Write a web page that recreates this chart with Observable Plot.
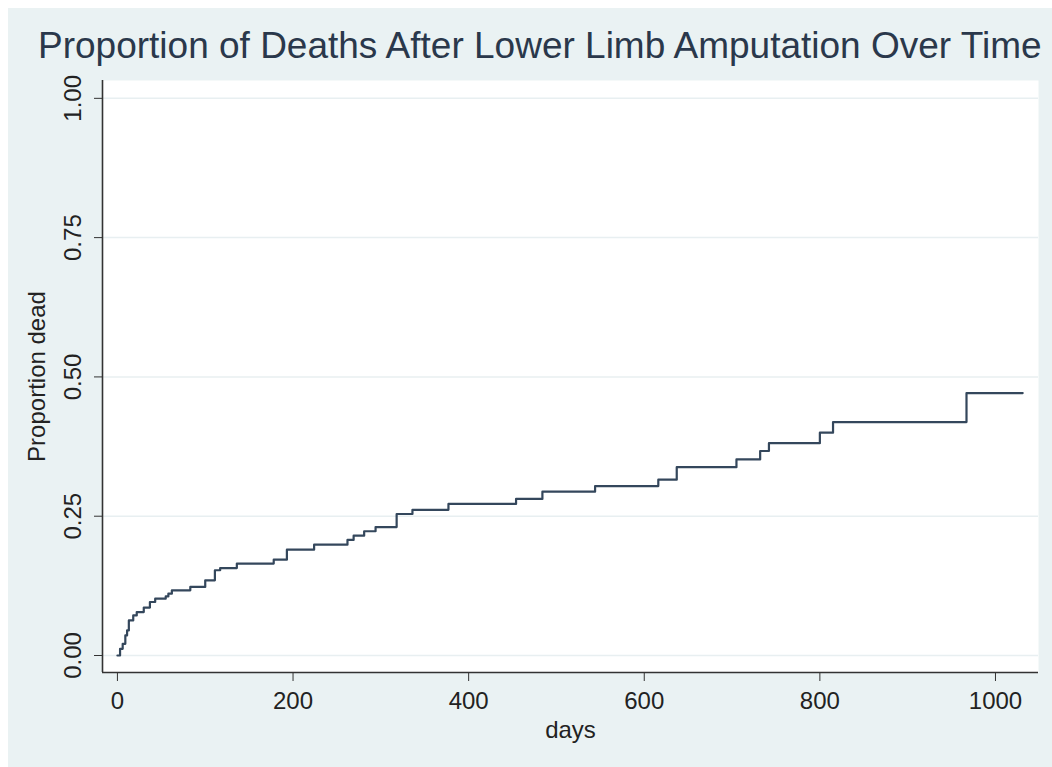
<!DOCTYPE html>
<html><head><meta charset="utf-8">
<script src="https://cdn.jsdelivr.net/npm/d3@7"></script>
<script src="https://cdn.jsdelivr.net/npm/@observablehq/plot@0.6"></script>
<style>
body{margin:0;background:#fff;width:1052px;height:767px;overflow:hidden;position:relative;font-family:"Liberation Sans",Arial,sans-serif}
#panel{position:absolute;left:8px;top:8px;width:1044px;height:759px;background:#eaf2f3}
#title{position:absolute;left:38px;top:25px;font-size:37px;line-height:42px;color:#2a384b;white-space:nowrap}
#chart{position:absolute;left:0;top:60px}
</style></head><body>
<div id="panel"></div>
<div id="title">Proportion of Deaths After Lower Limb Amputation Over Time</div>
<div id="chart"></div>
<script>
const days = [0, 3, 6, 9, 11, 13, 18, 22, 30, 37, 43, 55, 58, 62, 83, 100, 111, 117, 136, 178, 193, 224, 262, 269, 281, 294, 318, 336, 377, 454, 484, 544, 616, 637, 705, 732, 742, 800, 815, 967, 1031];
const proportionDead = [0, 0.012, 0.021, 0.036, 0.045, 0.063, 0.072, 0.078, 0.086, 0.096, 0.102, 0.106, 0.111, 0.117, 0.123, 0.135, 0.153, 0.157, 0.165, 0.172, 0.19, 0.199, 0.2075, 0.215, 0.223, 0.2305, 0.254, 0.2615, 0.272, 0.281, 0.294, 0.304, 0.3155, 0.338, 0.352, 0.367, 0.381, 0.4, 0.419, 0.471, 0.471];
const xTicks = [0, 200, 400, 600, 800, 1000];
const yTicks = [0, 0.25, 0.5, 0.75, 1];
const xDomain = [-17, 1049];
const yDomain = [-0.0305, 1.032];

const data = days.map((d, i) => ({days: d, prop: proportionDead[i]}));

const chart = Plot.plot({
  width: 1052, height: 707,
  marginLeft: 102, marginRight: 14, marginTop: 20, marginBottom: 95,
  style: {background: "transparent", fontFamily: "Liberation Sans, Arial, sans-serif", fontSize: "24px", color: "#222"},
  x: {domain: xDomain},
  y: {domain: yDomain},
  marks: [
    Plot.frame({fill: "white", stroke: "none"}),
    Plot.ruleY(yTicks, {stroke: "#e8eff1", strokeWidth: 1.5}),
    Plot.axisX({ticks: xTicks, tickSize: 9, tickPadding: 10, tickFormat: d3.format("d"), label: "days", labelAnchor: "center", labelOffset: 65, labelArrow: "none", stroke: "#333", fill: "#222"}),
    Plot.axisY({ticks: yTicks, tickSize: 8, tickPadding: 14, tickFormat: d3.format(".2f"), tickRotate: -90, label: "Proportion dead", labelAnchor: "center", labelOffset: 75, labelArrow: "none", stroke: "#333", fill: "#222"}),
    Plot.ruleX([xDomain[0]], {stroke: "#333", strokeWidth: 1.6}),
    Plot.ruleY([yDomain[0]], {stroke: "#333", strokeWidth: 1.6}),
    Plot.line(data, {x: "days", y: "prop", curve: "step-after", stroke: "#34475c", strokeWidth: 2.2})
  ]
});
document.getElementById("chart").appendChild(chart);
</script>
</body></html>
